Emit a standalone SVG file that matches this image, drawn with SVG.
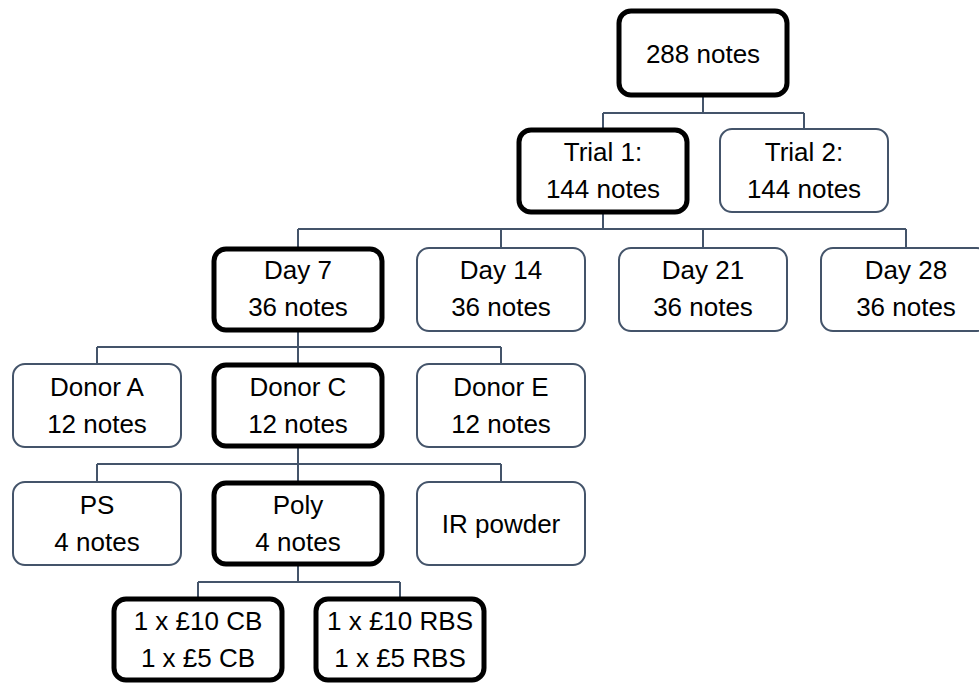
<svg xmlns="http://www.w3.org/2000/svg" width="979" height="684" viewBox="0 0 979 684">
<style>
.box{fill:#fff;stroke:#44546A;stroke-width:2}
.bold{fill:#fff;stroke:#000;stroke-width:5}
.con{fill:none;stroke:#44546A;stroke-width:2}
text{font-family:"Liberation Sans",Arial,sans-serif;font-size:26px;fill:#000;text-anchor:middle}
</style>
<rect width="979" height="684" fill="#fff"/>
<g id="connectors">
<path class="con" d="M703,96V113M603,113H804M603,113V129M804,113V129"/>
<path class="con" d="M603,212V229M298,229H906M298,229V248M501,229V248M703,229V248M906,229V248"/>
<path class="con" d="M298,331V347M97,347H501M97,347V364M298,347V364M501,347V364"/>
<path class="con" d="M298,447V464M97,464H501M97,464V482M298,464V482M501,464V482"/>
<path class="con" d="M298,565V582M198,582H400M198,582V598M400,582V598"/>
</g>
<g id="n288"><rect class="bold" x="619" y="11" width="168" height="84" rx="12"/><text x="703" y="63">288 notes</text></g>
<g id="trial1"><rect class="bold" x="519" y="130" width="168" height="82" rx="12"/><text x="603" y="161">Trial 1:</text><text x="603" y="198">144 notes</text></g>
<g id="trial2"><rect class="box" x="720" y="129" width="168" height="83" rx="12"/><text x="804" y="161">Trial 2:</text><text x="804" y="198">144 notes</text></g>
<g id="day7"><rect class="bold" x="214" y="249" width="168" height="81" rx="12"/><text x="298" y="279">Day 7</text><text x="298" y="316">36 notes</text></g>
<g id="day14"><rect class="box" x="417" y="248" width="168" height="83" rx="12"/><text x="501" y="279">Day 14</text><text x="501" y="316">36 notes</text></g>
<g id="day21"><rect class="box" x="619" y="248" width="168" height="83" rx="12"/><text x="703" y="279">Day 21</text><text x="703" y="316">36 notes</text></g>
<g id="day28"><rect class="box" x="821" y="248" width="168" height="83" rx="12"/><text x="906" y="279">Day 28</text><text x="906" y="316">36 notes</text></g>
<g id="donorA"><rect class="box" x="13" y="364" width="168" height="83" rx="12"/><text x="97" y="396">Donor A</text><text x="97" y="433">12 notes</text></g>
<g id="donorC"><rect class="bold" x="214" y="365" width="168" height="81" rx="12"/><text x="298" y="396">Donor C</text><text x="298" y="433">12 notes</text></g>
<g id="donorE"><rect class="box" x="417" y="364" width="168" height="83" rx="12"/><text x="501" y="396">Donor E</text><text x="501" y="433">12 notes</text></g>
<g id="ps"><rect class="box" x="13" y="482" width="168" height="83" rx="12"/><text x="97" y="514">PS</text><text x="97" y="551">4 notes</text></g>
<g id="poly"><rect class="bold" x="214" y="483" width="168" height="81" rx="12"/><text x="298" y="514">Poly</text><text x="298" y="551">4 notes</text></g>
<g id="ir"><rect class="box" x="417" y="482" width="168" height="83" rx="12"/><text x="501" y="533">IR powder</text></g>
<g id="cb"><rect class="bold" x="114" y="599" width="168" height="81" rx="12"/><text x="198" y="630">1 x £10 CB</text><text x="198" y="667">1 x £5 CB</text></g>
<g id="rbs"><rect class="bold" x="316" y="599" width="168" height="81" rx="12"/><text x="400" y="630">1 x £10 RBS</text><text x="400" y="667">1 x £5 RBS</text></g>
</svg>
